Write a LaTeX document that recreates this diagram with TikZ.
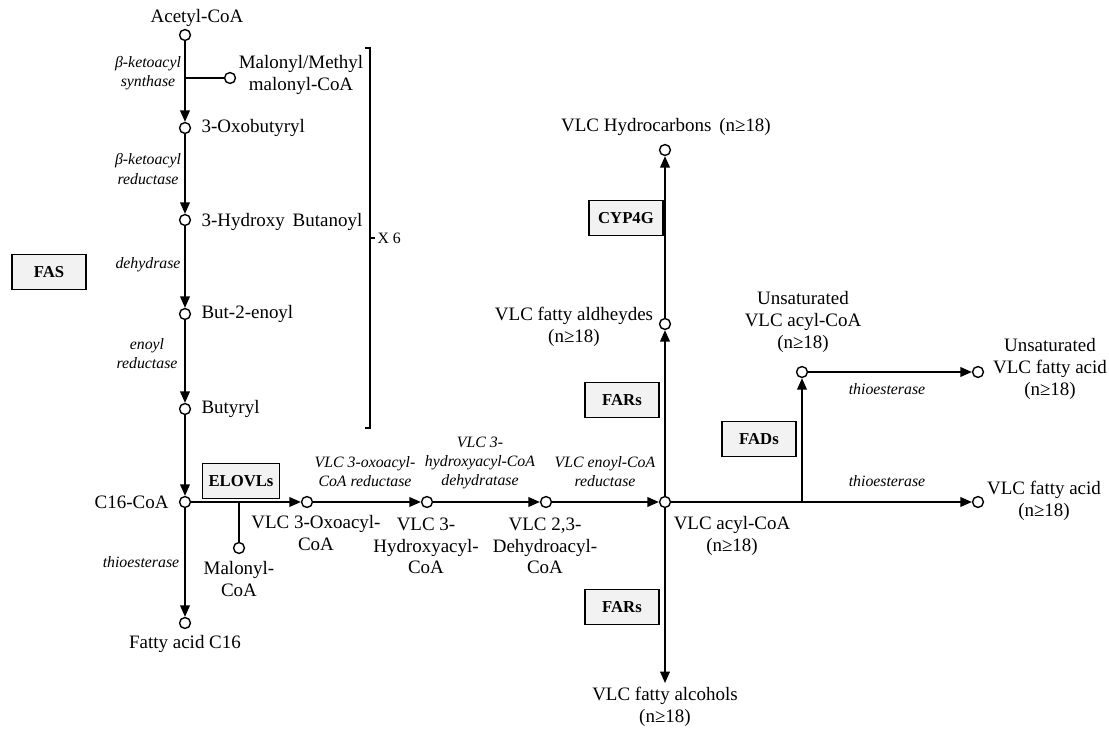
\documentclass[tikz,border=0pt]{standalone}
\usepackage{fontspec}
\setmainfont{Liberation Serif}
\usetikzlibrary{arrows.meta}

\begin{document}
\begin{tikzpicture}
[x=0.02cm,y=-0.02cm,line width=0.9pt,
dot/.style={circle,draw=black,fill=white,inner sep=0pt,minimum size=6.2pt,line width=0.8pt},
lbl/.style={font=\fontsize{10.8}{12.3}\selectfont,align=center,inner sep=1pt},
enz/.style={font=\itshape\fontsize{9}{10.9}\selectfont,align=center,inner sep=1pt},
box/.style={rectangle,draw=black,fill=gray!10,line width=0.8pt,font=\bfseries\fontsize{9.5}{11}\selectfont,minimum width=42pt,minimum height=20pt},
>={Triangle[length=6.5pt,width=5.5pt]}]
\useasboundingbox (0,0) rectangle (1109,729);
% FAS cycle
\node[dot] at (185,35) (ac) {};
\node[dot] at (230,78) (mal) {};
\node[dot] at (185,128) (oxo) {};
\node[dot] at (185,220) (hyd) {};
\node[dot] at (185,314) (but2) {};
\node[dot] at (185,409) (buty) {};
\node[dot] at (185,502) (c16) {};
\node[dot] at (185,623) (fa16) {};
\coordinate (j1) at (185,78);
\node[lbl] at (197,18) (tac) {Acetyl-CoA};
\node[lbl] at (301,75) (tmal) {Malonyl/Methyl\\malonyl-CoA};
\node[lbl,anchor=west] at (199,128) (toxo) {3-Oxobutyryl};
\node[lbl,anchor=west] at (199,222) (thyd) {3-Hydroxy\ \,Butanoyl};
\node[lbl,anchor=west] at (199,314) (tbut2) {But-2-enoyl};
\node[lbl,anchor=west] at (199,409) (tbuty) {Butyryl};
\node[lbl,anchor=east] at (171,502) (tc16) {C16-CoA};
\node[lbl] at (185,644) (tfa16) {Fatty acid C16};
\node[enz] at (148,73) (e1) {β-ketoacyl\\synthase};
\node[enz] at (148,169) (e2) {β-ketoacyl\\reductase};
\node[enz] at (148,265) (e3) {dehydrase};
\node[enz] at (147,354) (e4) {enoyl\\reductase};
\node[enz] at (141,562) (e5) {thioesterase};
\node[box] at (49,272) (fas) {FAS};
\draw[->] (ac) -- (oxo);
\draw (j1) -- (mal);
\draw[->] (oxo) -- (hyd);
\draw[->] (hyd) -- (but2);
\draw[->] (but2) -- (buty);
\draw[->] (buty) -- (c16);
\draw[->] (c16) -- (fa16);
\draw[line width=0.8pt] (365,48) -- (370,48) -- (370,428) -- (365,428);
\draw[line width=0.8pt] (370,238) -- (375,238);
\node[font=\fontsize{9}{10}\selectfont,anchor=west,inner sep=1pt] at (375,238) (x6) {X 6};
% elongation
\node[dot] at (307,502) (oxa) {};
\node[dot] at (239,548) (malc) {};
\node[dot] at (427,502) (hya) {};
\node[dot] at (546,502) (dha) {};
\node[dot] at (665,502) (vacyl) {};
\coordinate (j2) at (239,502);
\node[box] at (241,481) (elovl) {ELOVLs};
\node[lbl] at (239,579) (tmalc) {Malonyl-\\CoA};
\node[lbl] at (316,533) (toxa) {VLC 3-Oxoacyl-\\CoA};
\node[lbl] at (426,546) (thya) {VLC 3-\\Hydroxyacyl-\\CoA};
\node[lbl] at (545,546) (tdha) {VLC 2,3-\\Dehydroacyl-\\CoA};
\node[lbl] at (732,536) (tvacyl) {VLC acyl-CoA\\(n≥18)};
\node[enz] at (365,472) (e6) {VLC 3-oxoacyl-\\CoA reductase};
\node[enz] at (480,463) (e7) {VLC 3-\\hydroxyacyl-CoA\\dehydratase};
\node[enz] at (605,472) (e8) {VLC enoyl-CoA\\reductase};
\draw[->] (c16) -- (oxa);
\draw (j2) -- (malc);
\draw[->] (oxa) -- (hya);
\draw[->] (hya) -- (dha);
\draw[->] (dha) -- (vacyl);
% VLC products
\node[dot] at (665,324) (ald) {};
\node[dot] at (665,150) (hc) {};
\coordinate (alc) at (665,683);
\node[dot] at (802,372) (uacyl) {};
\node[dot] at (978,372) (ufa) {};
\node[dot] at (978,502) (vfa) {};
\coordinate (j3) at (802,502);
\node[lbl] at (574,327) (tald) {VLC fatty aldheydes\\(n≥18)};
\node[lbl] at (666,127) (thc) {VLC Hydrocarbons\ \,(n≥18)};
\node[lbl] at (665,707) (talc) {VLC fatty alcohols\\(n≥18)};
\node[lbl] at (803,322) (tuacyl) {Unsaturated\\VLC acyl-CoA\\(n≥18)};
\node[lbl] at (1050,369) (tufa) {Unsaturated\\VLC fatty acid\\(n≥18)};
\node[lbl] at (1044,501) (tvfa) {VLC fatty acid\\(n≥18)};
\node[enz] at (887,389) (e9) {thioesterase};
\node[enz] at (887,481) (e10) {thioesterase};
\node[box] at (626,218) (cyp) {CYP4G};
\node[box] at (622,400) (far1) {FARs};
\node[box] at (622,607) (far2) {FARs};
\node[box] at (759,439) (fad) {FADs};
\draw[->] (vacyl) -- (ald);
\draw[->] (ald) -- (hc);
\draw[->] (vacyl) -- (alc);
\draw[->] (j3) -- (uacyl);
\draw[->] (uacyl) -- (ufa);
\draw[->] (vacyl) -- (vfa);
\end{tikzpicture}
\end{document}
